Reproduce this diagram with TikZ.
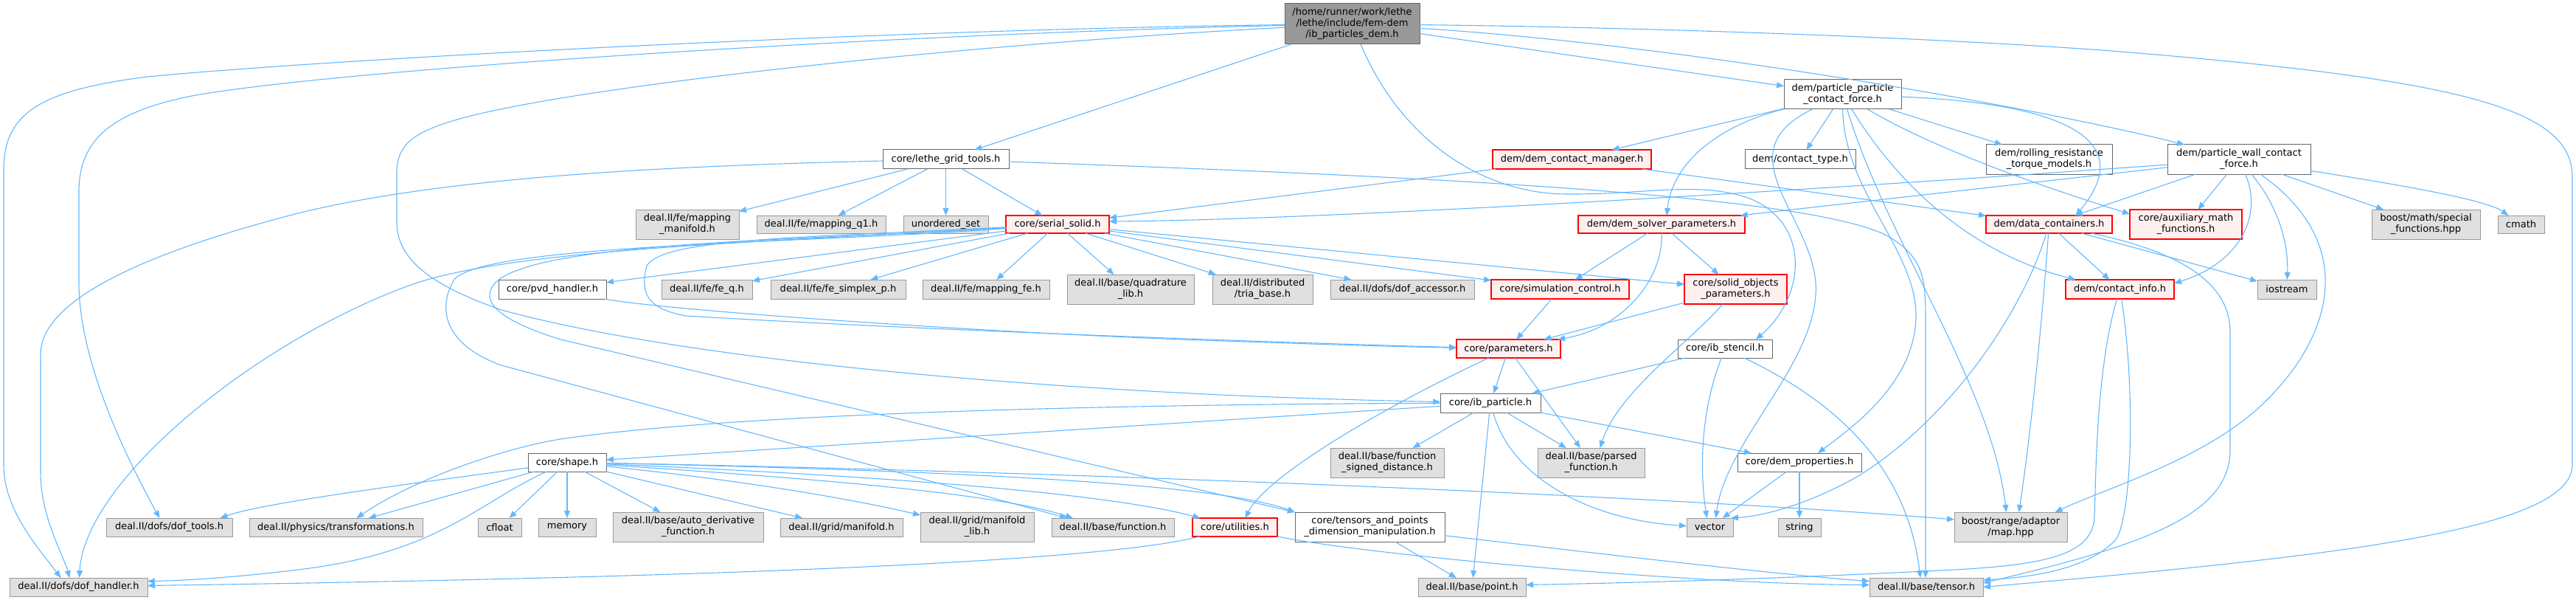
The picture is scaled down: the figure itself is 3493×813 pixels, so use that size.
\documentclass[tikz,border=0pt]{standalone}
\usepackage{fontspec}
\setmainfont{DejaVu Sans}
\usetikzlibrary{arrows.meta}
\definecolor{edgec}{HTML}{63B8FF}
\definecolor{greyfill}{HTML}{E0E0E0}
\definecolor{greyline}{HTML}{999999}
\definecolor{darkline}{HTML}{666666}
\definecolor{redfill}{HTML}{FFF0F0}
\definecolor{redline}{HTML}{FF0000}
\definecolor{rootfill}{HTML}{999999}
\tikzset{
 box/.style={rectangle, inner sep=0pt, outer sep=0pt, align=center, font=\fontsize{13}{15}\selectfont, text=black},
 sysbox/.style={box, fill=greyfill, draw=greyline, line width=1pt},
 redbox/.style={box, fill=redfill, draw=redline, line width=1.2pt},
 whitebox/.style={box, fill=white, draw=darkline, line width=1pt},
 rootbox/.style={box, fill=rootfill, draw=darkline, line width=1pt},
 dep/.style={draw=edgec, line width=1.1pt, -{Triangle[length=10pt,width=8pt]}},
}
\newcommand{\bx}[7]{\node[#2, minimum width={(#5-#3)*1pt}, minimum height={(#6-#4)*1pt}] (#1) at ({(#3+#5)/2},{(#4+#6)/2}) {#7};}
\begin{document}
\begin{tikzpicture}[x=1pt,y=-1pt]
\useasboundingbox (0,0) rectangle (3493,813);
% row 0-1
\bx{root}{rootbox}{1742}{5}{1925}{60}{/home/runner/work/lethe\\/lethe/include/fem-dem\\/ib\_particles\_dem.h}
\bx{pp}{whitebox}{2419}{108}{2578}{148}{dem/particle\_particle\\\_contact\_force.h}
% row 2
\bx{lgt}{whitebox}{1197}{203}{1368}{229}{core/lethe\_grid\_tools.h}
\bx{dcm}{redbox}{2024}{203}{2239}{229}{dem/dem\_contact\_manager.h}
\bx{ctype}{whitebox}{2366}{203}{2516}{229}{dem/contact\_type.h}
\bx{rolling}{whitebox}{2693}{196}{2864}{236}{dem/rolling\_resistance\\\_torque\_models.h}
\bx{pw}{whitebox}{2939}{196}{3133}{236}{dem/particle\_wall\_contact\\\_force.h}
% row 3
\bx{mapman}{sysbox}{862}{284}{1002}{324}{deal.II/fe/mapping\\\_manifold.h}
\bx{mapq1}{sysbox}{1026}{292}{1201}{316}{deal.II/fe/mapping\_q1.h}
\bx{unord}{sysbox}{1225}{292}{1340}{316}{unordered\_set}
\bx{serial}{redbox}{1364}{292}{1504}{316}{core/serial\_solid.h}
\bx{dsp}{redbox}{2140}{292}{2366}{316}{dem/dem\_solver\_parameters.h}
\bx{dc}{redbox}{2693}{292}{2864}{316}{dem/data\_containers.h}
\bx{aux}{redbox}{2888}{284}{3040}{324}{core/auxiliary\_math\\\_functions.h}
\bx{bmath}{sysbox}{3216}{284}{3363}{324}{boost/math/special\\\_functions.hpp}
\bx{cmath}{sysbox}{3387}{292}{3450}{316}{cmath}
% row 4
\bx{pvd}{whitebox}{676}{379}{822}{405}{core/pvd\_handler.h}
\bx{feq}{sysbox}{897}{379}{1020}{405}{deal.II/fe/fe\_q.h}
\bx{fesim}{sysbox}{1045}{379}{1228}{405}{deal.II/fe/fe\_simplex\_p.h}
\bx{mapfe}{sysbox}{1251}{379}{1423}{405}{deal.II/fe/mapping\_fe.h}
\bx{quad}{sysbox}{1447}{372}{1619}{412}{deal.II/base/quadrature\\\_lib.h}
\bx{tria}{sysbox}{1644}{372}{1780}{412}{deal.II/distributed\\/tria\_base.h}
\bx{dofacc}{sysbox}{1804}{379}{1999}{405}{deal.II/dofs/dof\_accessor.h}
\bx{simc}{redbox}{2022}{379}{2209}{405}{core/simulation\_control.h}
\bx{sop}{redbox}{2284}{372}{2423}{412}{core/solid\_objects\\\_parameters.h}
\bx{cinfo}{redbox}{2801}{379}{2948}{405}{dem/contact\_info.h}
\bx{iostr}{sysbox}{3061}{379}{3141}{405}{iostream}
% row 5-6
\bx{params}{redbox}{1975}{460}{2116}{485}{core/parameters.h}
\bx{stencil}{whitebox}{2275}{460}{2403}{485}{core/ib\_stencil.h}
\bx{ibp}{whitebox}{1953}{533}{2089}{559}{core/ib\_particle.h}
% row 7
\bx{shape}{whitebox}{716}{614}{822}{639}{core/shape.h}
\bx{fsd}{sysbox}{1804}{607}{1958}{647}{deal.II/base/function\\\_signed\_distance.h}
\bx{parsed}{sysbox}{2085}{607}{2230}{647}{deal.II/base/parsed\\\_function.h}
\bx{demprop}{whitebox}{2356}{614}{2524}{639}{core/dem\_properties.h}
% row 8
\bx{doftools}{sysbox}{144}{702}{315}{727}{deal.II/dofs/dof\_tools.h}
\bx{transf}{sysbox}{338}{702}{573}{727}{deal.II/physics/transformations.h}
\bx{cfloat}{sysbox}{648}{702}{707}{727}{cfloat}
\bx{memory}{sysbox}{730}{702}{808}{727}{memory}
\bx{autod}{sysbox}{831}{694}{1035}{734}{deal.II/base/auto\_derivative\\\_function.h}
\bx{manif}{sysbox}{1058}{702}{1224}{727}{deal.II/grid/manifold.h}
\bx{maniflib}{sysbox}{1248}{694}{1402}{734}{deal.II/grid/manifold\\\_lib.h}
\bx{func}{sysbox}{1426}{702}{1592}{727}{deal.II/base/function.h}
\bx{util}{redbox}{1617}{702}{1732}{727}{core/utilities.h}
\bx{tap}{whitebox}{1756}{694}{1959}{734}{core/tensors\_and\_points\\\_dimension\_manipulation.h}
\bx{vector}{sysbox}{2287}{702}{2350}{727}{vector}
\bx{string}{sysbox}{2411}{702}{2469}{727}{string}
\bx{maphpp}{sysbox}{2650}{694}{2803}{734}{boost/range/adaptor\\/map.hpp}
% row 9
\bx{dofh}{sysbox}{13}{783}{200}{808}{deal.II/dofs/dof\_handler.h}
\bx{point}{sysbox}{1923}{783}{2069}{808}{deal.II/base/point.h}
\bx{tensor}{sysbox}{2535}{783}{2689}{808}{deal.II/base/tensor.h}

% ---- edges from root
\draw[dep] (root) -- (lgt);
\draw[dep] (root) -- (pp);
\draw[dep] (root) .. controls (2300,62) and (2780,150) .. ([xshift=-74pt]pw.north);
\draw[dep] (root) .. controls (2300,38) and (2700,55) .. (2900,72) .. controls (3350,110) and (3488,150) .. (3488,240) -- (3488,630) .. controls (3488,720) and (3150,755) .. (tensor.east);
\draw[dep] (root) .. controls (1200,40) and (450,80) .. (200,104) .. controls (60,122) and (5,150) .. (5,230) -- (5,630) .. controls (5,690) and (50,740) .. ([xshift=-24pt]dofh.north);
\draw[dep] (root) .. controls (1200,46) and (450,95) .. (260,130) .. controls (150,152) and (107,190) .. (107,260) -- (107,383) .. controls (107,480) and (160,600) .. ([xshift=-13pt]doftools.north);
\draw[dep] (root) .. controls (1300,60) and (750,120) .. (610,165) .. controls (555,182) and (538,200) .. (538,235) -- (538,300) .. controls (538,350) and (580,385) .. (680,420) .. controls (900,480) and (1300,520) .. (1700,537) .. controls (1800,541) and (1880,543) .. (ibp);
\draw[dep] (root) .. controls (1900,190) and (2010,262) .. (2123,263) .. controls (2230,264) and (2300,245) .. (2370,268) .. controls (2455,300) and (2450,400) .. ([xshift=42pt]stencil.north);
% ---- lethe_grid_tools
\draw[dep] (lgt) -- (mapman);
\draw[dep] (lgt) -- (mapq1);
\draw[dep] (lgt) -- (unord);
\draw[dep] (lgt) -- (serial);
\draw[dep] (lgt) .. controls (900,225) and (600,240) .. (400,290) .. controls (150,355) and (55,420) .. (55,480) -- (55,640) .. controls (55,700) and (85,750) .. ([xshift=-12pt]dofh.north);
\draw[dep] (lgt) .. controls (1900,238) and (2450,262) .. (2560,320) .. controls (2611,350) and (2611,380) .. (2611,440) -- ([xshift=-1pt]tensor.north);
% ---- particle_particle_contact_force
\draw[dep] (pp) -- (dcm);
\draw[dep] (pp) -- (ctype);
\draw[dep] (pp) -- (rolling);
\draw[dep] (pp) .. controls (2330,170) and (2268,220) .. ([xshift=7pt]dsp.north);
\draw[dep] (pp) .. controls (2800,140) and (2900,190) .. ([xshift=36pt]dc.north);
\draw[dep] (pp) .. controls (2620,200) and (2760,250) .. ([yshift=-6pt]aux.north west);
\draw[dep] (pp) .. controls (2580,260) and (2680,345) .. ([xshift=-60pt]cinfo.north);
\draw[dep] (pp) .. controls (2560,330) and (2700,520) .. ([xshift=-6pt]maphpp.north);
\draw[dep] (pp) .. controls (2330,210) and (2470,300) .. (2462,400) .. controls (2455,500) and (2340,600) .. ([xshift=8pt]vector.north);
\draw[dep] (pp) .. controls (2500,260) and (2600,340) .. (2598,430) .. controls (2596,520) and (2510,580) .. ([xshift=25pt]demprop.north);
% ---- dem_contact_manager
\draw[dep] (dcm) -- (serial);
\draw[dep] (dcm) -- (dc);
% ---- particle_wall_contact_force
\draw[dep] (pw) .. controls (2500,255) and (1800,298) .. ([yshift=4pt]serial.east);
\draw[dep] (pw) -- (dsp);
\draw[dep] (pw) -- (dc);
\draw[dep] (pw) -- (aux);
\draw[dep] (pw) .. controls (3068,290) and (3040,355) .. ([yshift=-5pt]cinfo.north east);
\draw[dep] (pw) .. controls (3090,280) and (3103,330) .. (iostr);
\draw[dep] (pw) .. controls (3200,330) and (3165,460) .. (3060,555) .. controls (2980,625) and (2860,660) .. ([xshift=60pt]maphpp.north);
\draw[dep] (pw) -- (bmath);
\draw[dep] (pw) .. controls (3250,250) and (3370,270) .. (cmath);
% ---- data_containers
\draw[dep] (dc) -- (cinfo);
\draw[dep] (dc) -- (iostr);
\draw[dep] (dc) .. controls (2950,340) and (3024,380) .. (3024,450) -- (3024,610) .. controls (3024,700) and (2900,740) .. ([yshift=-7pt]tensor.north east);
\draw[dep] (dc) .. controls (2768,450) and (2752,600) .. ([xshift=11pt]maphpp.north);
\draw[dep] (dc) .. controls (2740,430) and (2640,570) .. (2520,645) .. controls (2440,690) and (2380,700) .. ([xshift=-3pt]vector.north east);
% ---- dem_solver_parameters
\draw[dep] (dsp) -- (simc);
\draw[dep] (dsp) .. controls (2255,380) and (2200,445) .. ([xshift=-4pt]params.north east);
\draw[dep] (dsp) -- (sop);
% ---- solid objects, simulation control
\draw[dep] (sop) -- (params);
\draw[dep] (sop) .. controls (2290,465) and (2195,530) .. ([xshift=12pt]parsed.north);
\draw[dep] (simc) -- (params);
% ---- parameters
\draw[dep] (params) -- (ibp);
\draw[dep] (params) -- (parsed);
\draw[dep] (params) .. controls (1900,540) and (1720,640) .. ([xshift=14pt]util.north);
% ---- ib_stencil
\draw[dep] (stencil) -- (ibp);
\draw[dep] (stencil) .. controls (2305,560) and (2305,640) .. ([xshift=-4pt]vector.north);
\draw[dep] (stencil) .. controls (2480,540) and (2585,625) .. ([xshift=-8pt]tensor.north);
% ---- ib_particle
\draw[dep] (ibp) -- (fsd);
\draw[dep] (ibp) -- (parsed);
\draw[dep] (ibp) -- (point);
\draw[dep] (ibp) .. controls (2050,650) and (2160,705) .. (vector);
\draw[dep] (ibp) -- (demprop);
\draw[dep] (ibp) -- (shape);
\draw[dep] (ibp) .. controls (1500,548) and (1000,560) .. (760,595) .. controls (680,608) and (560,650) .. ([xshift=28pt]transf.north);
% ---- shape
\draw[dep] (shape) -- (cfloat);
\draw[dep] (shape) -- (memory);
\draw[dep] (shape) -- (autod);
\draw[dep] (shape) -- (manif);
\draw[dep] (shape) .. controls (1000,650) and (1150,675) .. ([yshift=-4pt]maniflib.north west);
\draw[dep] (shape) .. controls (1100,648) and (1350,668) .. ([xshift=-54pt]func.north);
\draw[dep] (shape) .. controls (1200,645) and (1500,668) .. ([xshift=-47pt]util.north);
\draw[dep] (shape) .. controls (1300,638) and (1650,655) .. (tap.north west);
\draw[dep] (shape) .. controls (1500,640) and (2300,675) .. ([yshift=-10pt]maphpp.north west);
\draw[dep] (shape) .. controls (600,650) and (360,680) .. ([xshift=69pt]doftools.north);
\draw[dep] (shape) -- (transf);
\draw[dep] (shape) .. controls (650,680) and (600,745) .. (420,770) .. controls (320,783) and (240,787) .. ([yshift=8pt]dofh.east);
% ---- utilities, tensors_and_points
\draw[dep] (util) .. controls (1500,760) and (1000,782) .. ([yshift=2pt]dofh.east);
\draw[dep] (util) .. controls (1850,752) and (2300,792) .. ([yshift=3pt]tensor.west);
\draw[dep] (tap) -- (point);
\draw[dep] (tap) .. controls (2100,742) and (2400,778) .. ([yshift=8pt]tensor.west);
% ---- contact_info
\draw[dep] (cinfo) .. controls (2842,500) and (2842,650) .. (2840,700) .. controls (2838,750) and (2780,765) .. (2650,772) .. controls (2400,785) and (2200,790) .. ([yshift=3pt]point.east);
\draw[dep] (cinfo) .. controls (2895,520) and (2892,690) .. (2870,730) .. controls (2830,775) and (2740,783) .. ([yshift=-3pt]tensor.north east);
% ---- dem_properties
\draw[dep] (demprop) -- (vector);
\draw[dep] (demprop) -- (string);
% ---- serial_solid
\draw[dep] (serial) -- (pvd);
\draw[dep] (serial) -- (feq);
\draw[dep] (serial) -- (fesim);
\draw[dep] (serial) -- (mapfe);
\draw[dep] (serial) -- (quad);
\draw[dep] (serial) -- (tria);
\draw[dep] (serial) -- (dofacc);
\draw[dep] (serial) -- (simc);
\draw[dep] (serial) -- (sop);
\draw[dep] (serial) .. controls (1100,322) and (900,322) .. (877,360) .. controls (868,395) and (875,418) .. (930,428) .. controls (1300,450) and (1800,466) .. (params);
\draw[dep] (serial) .. controls (1000,330) and (700,338) .. (560,385) .. controls (350,460) and (115,650) .. ([xshift=1pt]dofh.north);
\draw[dep] (serial) .. controls (1100,326) and (720,326) .. (670,385) .. controls (650,410) and (680,435) .. (760,460) -- (tap.north west);
\draw[dep] (serial) .. controls (1100,330) and (650,330) .. (615,380) .. controls (590,425) and (610,470) .. (680,495) -- ([xshift=-62pt]func.north);
% ---- pvd_handler
\draw[dep] (pvd) .. controls (900,420) and (1300,448) .. (1600,460) .. controls (1800,467) and (1900,470) .. (params);
\end{tikzpicture}
\end{document}
